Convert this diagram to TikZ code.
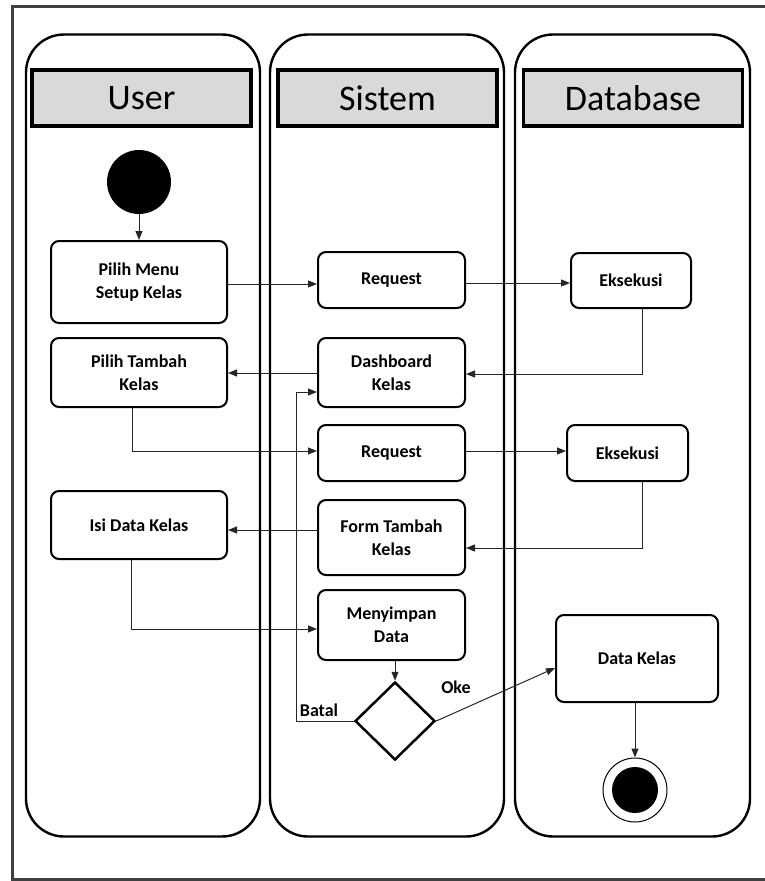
\documentclass[tikz,border=0pt]{standalone}
\usepackage{fontspec}
\setmainfont{Carlito}
\usetikzlibrary{arrows.meta,shapes.geometric}
\begin{document}
\begin{tikzpicture}[x=1pt,y=-1pt,
 lane/.style={draw, line width=2.4pt, rounded corners=38pt, minimum height=802pt, inner sep=0},
 hdr/.style={draw, line width=3.5pt, fill=black!15, minimum width=219pt, minimum height=56pt, font=\fontsize{36}{40}\selectfont, inner sep=0},
 act/.style={draw, line width=2pt, rounded corners=8pt, align=center, font=\fontsize{18}{23}\selectfont\bfseries, inner sep=0},
 lbl/.style={font=\fontsize{18}{20}\selectfont\bfseries, inner sep=0},
 flow/.style={-{Triangle[length=9pt,width=7pt]}, line width=1pt, draw=black!85},
]
\useasboundingbox (0,0) rectangle (765,881);
\draw[line width=3pt, draw=black!75] (12,6) rectangle (772,879);
% lanes
\node[lane, minimum width=234pt] (laneU) at (143,435.5) {};
\node[lane, minimum width=234pt] (laneS) at (387,435.5) {};
\node[lane, minimum width=235pt] (laneD) at (632.5,435.5) {};
% headers
\node[hdr] (hU) at (141.5,98) {User};
\node[hdr] (hS) at (387.5,98) {Sistem};
\node[hdr] (hD) at (633,98) {Database};
% start
\node[circle, fill, minimum size=64pt, inner sep=0] (start) at (139,182) {};
% activities
\node[act, minimum width=176pt, minimum height=82pt] (pm) at (139,282) {Pilih Menu\\Setup Kelas};
\node[act, minimum width=147pt, minimum height=56pt] (req1) at (391.5,280) {Request};
\node[act, minimum width=120pt, minimum height=55pt] (eks1) at (631,280.5) {Eksekusi};
\node[act, minimum width=176pt, minimum height=69pt] (pt) at (139,372.5) {Pilih Tambah\\Kelas};
\node[act, minimum width=147pt, minimum height=69pt] (dash) at (391.5,372.5) {Dashboard\\Kelas};
\node[act, minimum width=147pt, minimum height=56pt] (req2) at (391.5,453) {Request};
\node[act, minimum width=121pt, minimum height=56pt] (eks2) at (627.5,453) {Eksekusi};
\node[act, minimum width=176pt, minimum height=68pt] (isi) at (139,525) {Isi Data Kelas};
\node[act, minimum width=147pt, minimum height=75pt] (form) at (391.5,537.5) {Form Tambah\\Kelas};
\node[act, minimum width=147pt, minimum height=70pt] (mny) at (391.5,625) {Menyimpan\\Data};
\node[diamond, draw, line width=2.5pt, minimum width=80pt, minimum height=78pt, inner sep=0] (dec) at (395,721) {};
\node[act, minimum width=162pt, minimum height=87pt] (dk) at (637,658.5) {Data Kelas};
\node[circle, draw, line width=1pt, minimum size=64pt, inner sep=0] (endo) at (635,790) {};
\node[circle, fill, minimum size=46pt, inner sep=0] (endi) at (635,790) {};
% labels
\node[lbl] (batal) at (319,710) {Batal};
\node[lbl] (oke) at (456,687) {Oke};
% flows
\draw[flow] (start) -- (pm);
\draw[flow] (pm.east |- 0,284) -- (req1.west |- 0,284);
\draw[flow] (req1.east |- 0,283) -- (eks1.west |- 0,283);
\draw[flow] (eks1.south -| 642,0) |- (dash.east |- 0,374);
\draw[flow] (dash.west |- 0,373) -- (pt.east |- 0,373);
\draw[flow] (pt.south -| 132,0) |- (req2.west |- 0,451);
\draw[flow] (req2.east |- 0,451) -- (eks2.west |- 0,451);
\draw[flow] (eks2.south -| 642,0) |- (form.east |- 0,548);
\draw[flow] (form.west |- 0,530) -- (isi.east |- 0,530);
\draw[flow] (isi.south -| 131,0) |- (mny.west |- 0,629);
\draw[flow] (dec.north |- mny.south) -- (dec.north);
\coordinate (b2) at (296,392);
\draw[flow] (dec.west) -| (b2) -- (dash.west |- b2);
\draw[flow] (dec.east) -- (dk.west |- 0,668);
\draw[flow] (endo.north |- dk.south) -- (endo.north);
\end{tikzpicture}
\end{document}
